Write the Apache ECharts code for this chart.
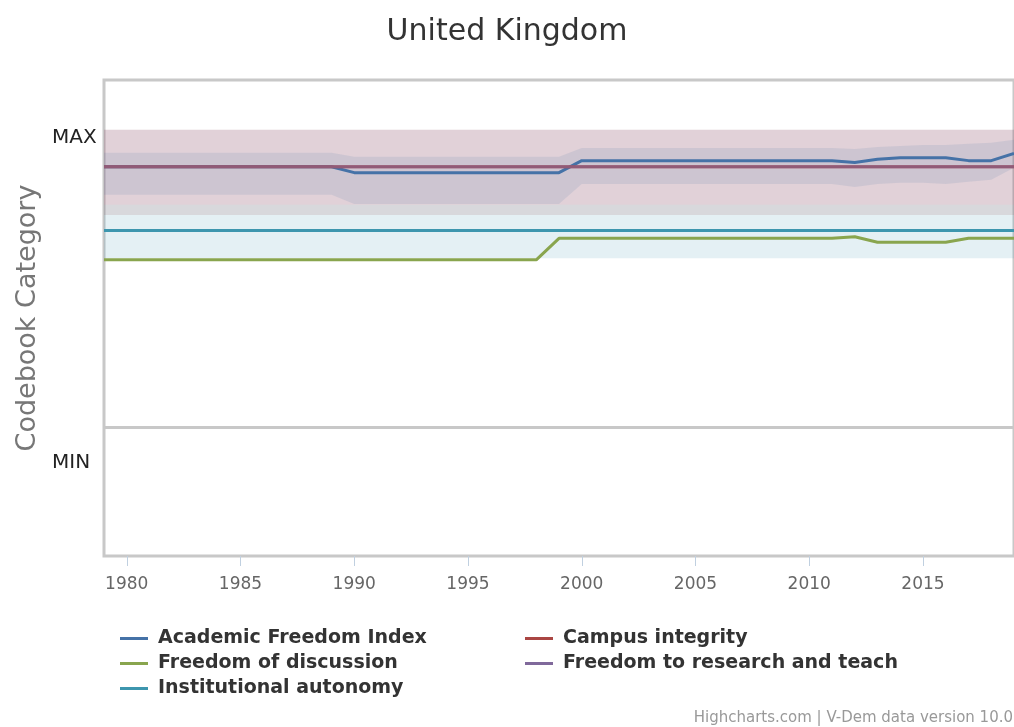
<!DOCTYPE html>
<html>
<head>
<meta charset="utf-8">
<title>United Kingdom</title>
<script src="https://cdn.jsdelivr.net/npm/echarts@6/dist/echarts.min.js"></script>
<style>
  html, body { margin: 0; padding: 0; background: #fff; }
  #chart { width: 1014px; height: 727px; }
</style>
</head>
<body>
<div id="chart"></div>
<script>
// Years on the x axis
const years = ['1979', '1980', '1981', '1982', '1983', '1984', '1985', '1986', '1987', '1988', '1989',
  '1990', '1991', '1992', '1993', '1994', '1995', '1996', '1997', '1998', '1999',
  '2000', '2001', '2002', '2003', '2004', '2005', '2006', '2007', '2008', '2009', '2010',
  '2011', '2012', '2013', '2014', '2015', '2016', '2017', '2018', '2019'];

const xTickYears = ['1980', '1985', '1990', '1995', '2000', '2005', '2010', '2015'];

// Codebook scale: 0 = MIN category, 1 = MAX category
const categoryTicks = [0, 1];
const categoryNames = { 0: 'MIN', 1: 'MAX' };
const referenceLevel = 0.112;

// Point estimates
const academicFreedomIndex = [0.911, 0.911, 0.911, 0.911, 0.911, 0.911, 0.911, 0.911, 0.911, 0.911, 0.911,
  0.893, 0.893, 0.893, 0.893, 0.893, 0.893, 0.893, 0.893, 0.893, 0.893,
  0.930, 0.930, 0.930, 0.930, 0.930, 0.930, 0.930, 0.930, 0.930, 0.930, 0.930,
  0.930, 0.924, 0.934, 0.939, 0.939, 0.939, 0.930, 0.930, 0.952];
const campusIntegrity = [0.911, 0.911, 0.911, 0.911, 0.911, 0.911, 0.911, 0.911, 0.911, 0.911, 0.911,
  0.911, 0.911, 0.911, 0.911, 0.911, 0.911, 0.911, 0.911, 0.911, 0.911,
  0.911, 0.911, 0.911, 0.911, 0.911, 0.911, 0.911, 0.911, 0.911, 0.911, 0.911,
  0.911, 0.911, 0.911, 0.911, 0.911, 0.911, 0.911, 0.911, 0.911];
const freedomOfDiscussion = [0.625, 0.625, 0.625, 0.625, 0.625, 0.625, 0.625, 0.625, 0.625, 0.625, 0.625,
  0.625, 0.625, 0.625, 0.625, 0.625, 0.625, 0.625, 0.625, 0.625, 0.691,
  0.691, 0.691, 0.691, 0.691, 0.691, 0.691, 0.691, 0.691, 0.691, 0.691, 0.691,
  0.691, 0.696, 0.679, 0.679, 0.679, 0.679, 0.691, 0.691, 0.691];
const freedomToResearch = [0.911, 0.911, 0.911, 0.911, 0.911, 0.911, 0.911, 0.911, 0.911, 0.911, 0.911,
  0.911, 0.911, 0.911, 0.911, 0.911, 0.911, 0.911, 0.911, 0.911, 0.911,
  0.911, 0.911, 0.911, 0.911, 0.911, 0.911, 0.911, 0.911, 0.911, 0.911, 0.911,
  0.911, 0.911, 0.911, 0.911, 0.911, 0.911, 0.911, 0.911, 0.911];
const institutionalAutonomy = [0.715, 0.715, 0.715, 0.715, 0.715, 0.715, 0.715, 0.715, 0.715, 0.715, 0.715,
  0.715, 0.715, 0.715, 0.715, 0.715, 0.715, 0.715, 0.715, 0.715, 0.715,
  0.715, 0.715, 0.715, 0.715, 0.715, 0.715, 0.715, 0.715, 0.715, 0.715, 0.715,
  0.715, 0.715, 0.715, 0.715, 0.715, 0.715, 0.715, 0.715, 0.715];

// Confidence intervals (lower / upper)
const afiLower = [0.825, 0.825, 0.825, 0.825, 0.825, 0.825, 0.825, 0.825, 0.825, 0.825, 0.825,
  0.797, 0.797, 0.797, 0.797, 0.797, 0.797, 0.797, 0.797, 0.797, 0.797,
  0.858, 0.858, 0.858, 0.858, 0.858, 0.858, 0.858, 0.858, 0.858, 0.858, 0.858,
  0.858, 0.849, 0.858, 0.862, 0.862, 0.858, 0.865, 0.871, 0.908];
const afiUpper = [0.954, 0.954, 0.954, 0.954, 0.954, 0.954, 0.954, 0.954, 0.954, 0.954, 0.954,
  0.942, 0.942, 0.942, 0.942, 0.942, 0.942, 0.942, 0.942, 0.942, 0.942,
  0.969, 0.969, 0.969, 0.969, 0.969, 0.969, 0.969, 0.969, 0.969, 0.969, 0.969,
  0.969, 0.966, 0.972, 0.975, 0.978, 0.978, 0.982, 0.985, 0.994];
const campusLower = [0.763, 0.763, 0.763, 0.763, 0.763, 0.763, 0.763, 0.763, 0.763, 0.763, 0.763,
  0.763, 0.763, 0.763, 0.763, 0.763, 0.763, 0.763, 0.763, 0.763, 0.763,
  0.763, 0.763, 0.763, 0.763, 0.763, 0.763, 0.763, 0.763, 0.763, 0.763, 0.763,
  0.763, 0.763, 0.763, 0.763, 0.763, 0.763, 0.763, 0.763, 0.763];
const campusUpper = [1.025, 1.025, 1.025, 1.025, 1.025, 1.025, 1.025, 1.025, 1.025, 1.025, 1.025,
  1.025, 1.025, 1.025, 1.025, 1.025, 1.025, 1.025, 1.025, 1.025, 1.025,
  1.025, 1.025, 1.025, 1.025, 1.025, 1.025, 1.025, 1.025, 1.025, 1.025, 1.025,
  1.025, 1.025, 1.025, 1.025, 1.025, 1.025, 1.025, 1.025, 1.025];
const researchLower = [0.794, 0.794, 0.794, 0.794, 0.794, 0.794, 0.794, 0.794, 0.794, 0.794, 0.794,
  0.794, 0.794, 0.794, 0.794, 0.794, 0.794, 0.794, 0.794, 0.794, 0.794,
  0.794, 0.794, 0.794, 0.794, 0.794, 0.794, 0.794, 0.794, 0.794, 0.794, 0.794,
  0.794, 0.794, 0.794, 0.794, 0.794, 0.794, 0.794, 0.794, 0.794];
const researchUpper = [1.025, 1.025, 1.025, 1.025, 1.025, 1.025, 1.025, 1.025, 1.025, 1.025, 1.025,
  1.025, 1.025, 1.025, 1.025, 1.025, 1.025, 1.025, 1.025, 1.025, 1.025,
  1.025, 1.025, 1.025, 1.025, 1.025, 1.025, 1.025, 1.025, 1.025, 1.025, 1.025,
  1.025, 1.025, 1.025, 1.025, 1.025, 1.025, 1.025, 1.025, 1.025];
const autonomyLower = [0.630, 0.630, 0.630, 0.630, 0.630, 0.630, 0.630, 0.630, 0.630, 0.630, 0.630,
  0.630, 0.630, 0.630, 0.630, 0.630, 0.630, 0.630, 0.630, 0.630, 0.630,
  0.630, 0.630, 0.630, 0.630, 0.630, 0.630, 0.630, 0.630, 0.630, 0.630, 0.630,
  0.630, 0.630, 0.630, 0.630, 0.630, 0.630, 0.630, 0.630, 0.630];
const autonomyUpper = [0.794, 0.794, 0.794, 0.794, 0.794, 0.794, 0.794, 0.794, 0.794, 0.794, 0.794,
  0.794, 0.794, 0.794, 0.794, 0.794, 0.794, 0.794, 0.794, 0.794, 0.794,
  0.794, 0.794, 0.794, 0.794, 0.794, 0.794, 0.794, 0.794, 0.794, 0.794, 0.794,
  0.794, 0.794, 0.794, 0.794, 0.794, 0.794, 0.794, 0.794, 0.794];

const FONT = '"DejaVu Sans", "Lucida Grande", Verdana, sans-serif';
const COLORS = {
  afi: '#4572A7',
  campus: '#AA4643',
  discussion: '#89A54E',
  research: '#80699B',
  autonomy: '#3D96AE'
};

// Shaded interval: a transparent base plus a stacked difference filled as an area
function band(key, lower, upper, fill) {
  return [
    {
      type: 'line', name: key + ' low', stack: key, data: lower,
      symbol: 'none', silent: true, z: 1,
      lineStyle: { opacity: 0 }
    },
    {
      type: 'line', name: key + ' high', stack: key,
      data: upper.map((u, i) => +(u - lower[i]).toFixed(4)),
      symbol: 'none', silent: true, z: 1,
      lineStyle: { opacity: 0 },
      areaStyle: { color: fill, opacity: 1 }
    }
  ];
}

function line(name, values, color, opacity, extra) {
  return Object.assign({
    type: 'line', name: name, data: values,
    symbol: 'none', showSymbol: false, silent: true, z: 3,
    itemStyle: { color: color },
    lineStyle: { color: color, width: 3, opacity: opacity }
  }, extra || {});
}

const legendText = { fontFamily: FONT, fontSize: 19, fontWeight: 'bold', color: '#333', padding: [0, 0, 0, 5], lineHeight: 19 };
const showYear = (idx, val) => xTickYears.indexOf(String(val)) >= 0;

const option = {
  animation: false,
  backgroundColor: '#fff',
  title: {
    text: 'United Kingdom',
    left: 'center',
    top: 12,
    textStyle: { fontFamily: FONT, fontSize: 30, fontWeight: 'normal', color: '#333' }
  },
  legend: [
    {
      orient: 'vertical', left: 115, top: 624, icon: 'rect',
      itemWidth: 28, itemHeight: 3, itemGap: 6,
      data: ['Academic Freedom Index', 'Freedom of discussion', 'Institutional autonomy'],
      textStyle: legendText, selectedMode: false
    },
    {
      orient: 'vertical', left: 520, top: 624, icon: 'rect',
      itemWidth: 28, itemHeight: 3, itemGap: 6,
      data: ['Campus integrity', 'Freedom to research and teach'],
      textStyle: legendText, selectedMode: false
    }
  ],
  grid: {
    left: 104, right: -4, top: 80, bottom: 171,
    show: true, borderColor: '#C8C8C8', borderWidth: 3, backgroundColor: 'transparent'
  },
  xAxis: {
    type: 'category', data: years, boundaryGap: false,
    axisLine: { show: false, onZero: false },
    splitLine: { show: false },
    axisTick: { show: true, interval: showYear, length: 10, lineStyle: { color: '#C0D0E0', width: 1 } },
    axisLabel: {
      interval: showYear, margin: 20,
      fontFamily: FONT, fontSize: 17, color: '#666'
    }
  },
  yAxis: {
    type: 'value', min: -0.286, max: 1.178,
    name: 'Codebook Category', nameLocation: 'middle', nameGap: 62,
    nameTextStyle: { fontFamily: FONT, fontSize: 27, color: '#777' },
    axisLine: { show: false },
    axisTick: { show: false },
    splitLine: { show: false },
    axisLabel: {
      customValues: categoryTicks, align: 'left', margin: 52,
      fontFamily: FONT, fontSize: 20, color: '#222',
      formatter: v => categoryNames[v] || ''
    }
  },
  graphic: [
    {
      type: 'text', x: 1013, y: 718, silent: true,
      style: {
        text: 'Highcharts.com | V-Dem data version 10.0',
        align: 'right', verticalAlign: 'middle',
        fontFamily: FONT, fontSize: 15, fill: '#999'
      }
    }
  ],
  series: [
    ...band('campus', campusLower, campusUpper, 'rgba(170,70,67,0.15)'),
    ...band('research', researchLower, researchUpper, 'rgba(128,105,155,0.15)'),
    ...band('autonomy', autonomyLower, autonomyUpper, 'rgba(61,150,174,0.14)'),
    ...band('afi', afiLower, afiUpper, 'rgba(69,114,167,0.12)'),
    line('Academic Freedom Index', academicFreedomIndex, COLORS.afi, 1),
    line('Campus integrity', campusIntegrity, COLORS.campus, 1),
    line('Freedom of discussion', freedomOfDiscussion, COLORS.discussion, 1),
    line('Freedom to research and teach', freedomToResearch, COLORS.research, 0.6),
    line('Institutional autonomy', institutionalAutonomy, COLORS.autonomy, 1, {
      markLine: {
        silent: true, symbol: 'none', animation: false,
        label: { show: false },
        lineStyle: { color: '#C8C8C8', width: 3, type: 'solid', opacity: 1 },
        data: [{ yAxis: referenceLevel }]
      }
    })
  ]
};

const chart = echarts.init(document.getElementById('chart'), null, { renderer: 'canvas' });
chart.setOption(option);
</script>
</body>
</html>
